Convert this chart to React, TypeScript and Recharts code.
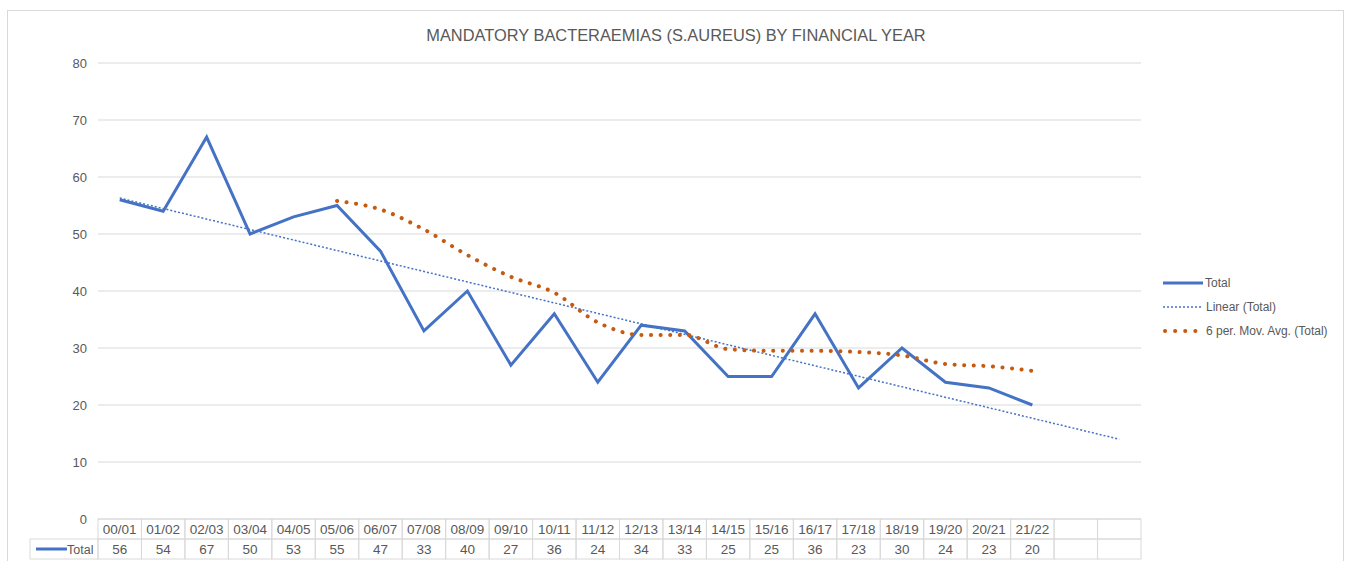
import { LineChart, Line, XAxis, YAxis, CartesianGrid } from 'recharts'

const years = [
  '00/01', '01/02', '02/03', '03/04', '04/05', '05/06', '06/07', '07/08', '08/09', '09/10', '10/11', '11/12',
  '12/13', '13/14', '14/15', '15/16', '16/17', '17/18', '18/19', '19/20', '20/21', '21/22', '', '',
]
const totals = [56, 54, 67, 50, 53, 55, 47, 33, 40, 27, 36, 24, 34, 33, 25, 25, 36, 23, 30, 24, 23, 20]
// trend line: its two ends, forecast two periods ahead
const linearTrend = [
  56.3, null, null, null, null, null, null, null, null, null, null, null,
  null, null, null, null, null, null, null, null, null, null, null, 14.0,
]
const movingAvg = [
  null, null, null, null, null, 55.8, 54.3, 50.8, 46.3, 42.5, 39.7, 34.5,
  32.3, 32.3, 29.8, 29.5, 29.5, 29.3, 28.7, 27.2, 26.8, 26.0,
]
const yTicks = [0, 10, 20, 30, 40, 50, 60, 70, 80]

const data = years.map((year, i) => ({
  year,
  total: totals[i] ?? null,
  linear: linearTrend[i] ?? null,
  ma: movingAvg[i] ?? null,
}))

const FONT = '"Liberation Sans", Arial, sans-serif'
const GRID = '#d9d9d9'
const TEXT = '#595959'
const BLUE = '#4472C4'
const ORANGE = '#C55A11'

const PLOT_LEFT = 98
const PLOT_RIGHT = 1141
const COL_W = (PLOT_RIGHT - PLOT_LEFT) / years.length
const ROW_H = 20

function TableTick(props: any) {
  const { x, y, payload, index } = props
  const left = x - COL_W / 2
  const v = totals[index]
  return (
    <g>
      <rect x={left} y={y} width={COL_W} height={ROW_H} fill="none" stroke={GRID} />
      <rect x={left} y={y + ROW_H} width={COL_W} height={ROW_H} fill="none" stroke={GRID} />
      <text x={x} y={y + 15} textAnchor="middle" fontSize={13.5} fill={TEXT} fontFamily={FONT}>
        {payload.value}
      </text>
      <text x={x} y={y + ROW_H + 15} textAnchor="middle" fontSize={13.5} fill={TEXT} fontFamily={FONT}>
        {v ?? ''}
      </text>
      {index === 0 && (
        <g>
          <rect x={30} y={y + ROW_H} width={left - 30} height={ROW_H} fill="none" stroke={GRID} />
          <line x1={36} x2={67} y1={y + ROW_H + 10} y2={y + ROW_H + 10} stroke={BLUE} strokeWidth={3} />
          <text x={67} y={y + ROW_H + 15} fontSize={12.5} fill={TEXT} fontFamily={FONT}>
            Total
          </text>
        </g>
      )}
    </g>
  )
}

const legendItems = [
  { name: 'Total', color: BLUE, width: 3, dash: undefined, cap: 'butt' },
  { name: 'Linear (Total)', color: BLUE, width: 1.5, dash: '2 2', cap: 'butt' },
  { name: '6 per. Mov. Avg. (Total)', color: ORANGE, width: 4, dash: '0.1 10', cap: 'round' },
]

export default function App() {
  return (
    <div
      style={{
        position: 'absolute',
        left: 0,
        top: 0,
        width: 1349,
        height: 561,
        overflow: 'hidden',
        background: '#fff',
        fontFamily: FONT,
      }}
    >
      <div
        style={{
          position: 'absolute',
          left: 7,
          top: 10,
          width: 1335,
          height: 600,
          border: `1px solid ${GRID}`,
        }}
      />
      <div
        style={{
          position: 'absolute',
          left: 0,
          width: 1352,
          top: 26,
          textAlign: 'center',
          fontSize: 16.4,
          color: TEXT,
        }}
      >
        MANDATORY BACTERAEMIAS (S.AUREUS) BY FINANCIAL YEAR
      </div>
      <div style={{ position: 'absolute', left: 0, top: 0 }}>
        <LineChart width={1349} height={561} data={data} margin={{ top: 63, right: 208, bottom: 2, left: 68 }}>
          <CartesianGrid vertical={false} stroke={GRID} />
          <XAxis
            dataKey="year"
            interval={0}
            axisLine={false}
            tickLine={false}
            tickSize={0}
            tickMargin={0}
            height={40}
            padding={{ left: COL_W / 2, right: COL_W / 2 }}
            tick={<TableTick />}
          />
          <YAxis
            domain={[0, 80]}
            ticks={yTicks}
            width={30}
            axisLine={false}
            tickLine={false}
            tickSize={0}
            tickMargin={11}
            tick={{ fontSize: 13, fill: TEXT, fontFamily: FONT }}
          />
          <Line
            type="linear"
            dataKey="linear"
            stroke={BLUE}
            strokeWidth={1.5}
            strokeDasharray="2 2"
            dot={false}
            connectNulls
            isAnimationActive={false}
          />
          <Line
            type="linear"
            dataKey="total"
            stroke={BLUE}
            strokeWidth={3}
            dot={false}
            isAnimationActive={false}
          />
          <Line
            type="monotone"
            dataKey="ma"
            stroke={ORANGE}
            strokeWidth={4}
            strokeDasharray="0.1 9.5"
            strokeLinecap="round"
            dot={false}
            isAnimationActive={false}
          />
        </LineChart>
      </div>
      <div style={{ position: 'absolute', left: 1163, top: 271 }}>
        {legendItems.map((it) => (
          <div key={it.name} style={{ display: 'flex', alignItems: 'center', height: 24 }}>
            <svg width={42} height={10} style={{ display: 'block' }}>
              <line
                x1={it.cap === 'round' ? 2 : 0}
                x2={40}
                y1={5}
                y2={5}
                stroke={it.color}
                strokeWidth={it.width}
                strokeDasharray={it.dash}
                strokeLinecap={it.cap as any}
              />
            </svg>
            <span style={{ fontSize: 12, color: TEXT, marginLeft: it.name === 'Total' ? 0 : 1 }}>{it.name}</span>
          </div>
        ))}
      </div>
    </div>
  )
}
